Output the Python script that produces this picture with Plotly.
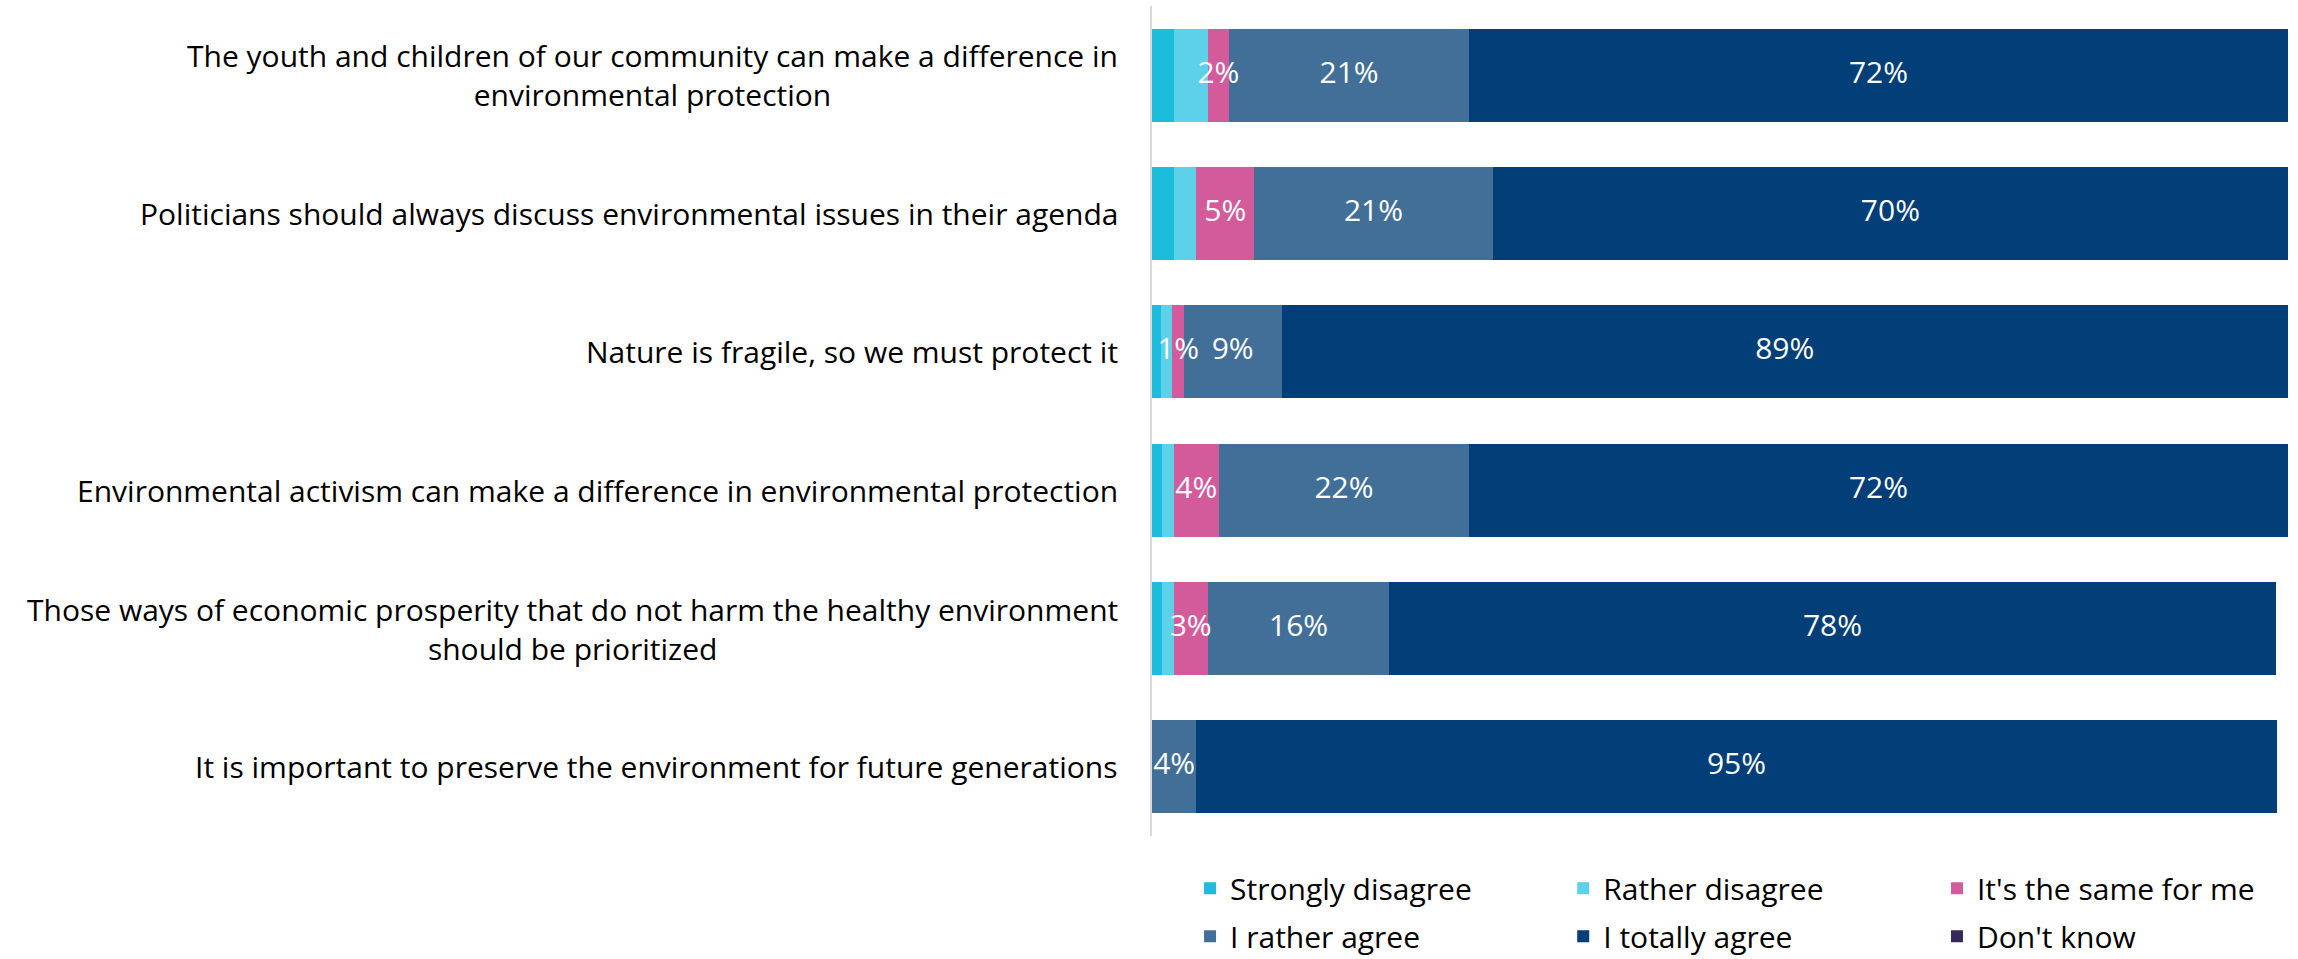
import plotly.graph_objects as go

categories = [
    "The youth and children of our community can make a difference in<br>environmental protection",
    "Politicians should always discuss environmental issues in their agenda",
    "Nature is fragile, so we must protect it",
    "Environmental activism can make a difference in environmental protection",
    "Those ways of economic prosperity that do not harm the healthy environment<br>should be prioritized",
    "It is important to preserve the environment for future generations",
]

series_names = ["Strongly disagree", "Rather disagree", "It's the same for me",
                "I rather agree", "I totally agree", "Don't know"]

strongly_disagree = [1.9, 1.9, 0.8, 0.9, 0.9, 0.0]
rather_disagree = [3.0, 2.0, 1.0, 1.0, 1.0, 0.0]
same_for_me = [1.9, 5.1, 1.0, 4.0, 3.0, 0.0]
rather_agree = [21.1, 21.0, 8.6, 22.0, 16.0, 3.9]
totally_agree = [72.1, 70.0, 88.6, 72.1, 78.0, 95.1]
dont_know = [0, 0, 0, 0, 0, 0]

# labels shown only for these series
show_labels = [False, False, True, True, True, False]
colors = ["#1BBCDC", "#5DD1E9", "#D45B9B", "#426F98", "#023E77", "#35295B"]
# legend column for each series (2 rows x 3 columns)
legend_ids = ["legend", "legend2", "legend3", "legend", "legend2", "legend3"]

FONT = "Open Sans"
FS = 30

fig = go.Figure()
values = [strongly_disagree, rather_disagree, same_for_me, rather_agree, totally_agree, dont_know]
for i, (name, vals, col, lg) in enumerate(zip(series_names, values, colors, legend_ids)):
    fig.add_trace(go.Bar(
        y=categories, x=vals, name=name, orientation="h",
        marker=dict(color=col, line=dict(width=0)),
        hoverinfo="x+name",
        legend=lg, legendgroup=f"g{i}",
    ))

# value labels drawn on top of all bars (so they may overflow narrow segments)
base = [0.0] * len(categories)
for vals, lab in zip(values, show_labels):
    mids = [b + v / 2 for b, v in zip(base, vals)]
    if lab:
        txt = [f"{round(v)}%" if v > 0 else "" for v in vals]
        fig.add_trace(go.Scatter(
            x=mids, y=categories, mode="text", text=txt,
            textposition="middle center",
            textfont=dict(color="white", size=FS, family=FONT),
            showlegend=False, hoverinfo="skip", cliponaxis=False,
        ))
    base = [b + v for b, v in zip(base, vals)]

annotations = []
for c in categories:
    annotations.append(dict(
        x=0, xref="paper", y=c, yref="y", text=c, showarrow=False,
        xanchor="right", align="center", xshift=-32,
        font=dict(size=FS, family=FONT, color="#000000"),
    ))

legend_common = dict(
    orientation="v", yref="container", y=0.101, yanchor="top", xanchor="left",
    font=dict(size=FS, family=FONT, color="#000000"),
    traceorder="grouped", tracegroupgap=6, bgcolor="rgba(0,0,0,0)",
)

fig.update_layout(
    barmode="stack",
    width=2298, height=959,
    margin=dict(l=1152, r=10, t=6, b=123),
    plot_bgcolor="white", paper_bgcolor="white",
    bargap=0.33,
    annotations=annotations,
    legend=dict(x=0.0335, **legend_common),
    legend2=dict(x=0.362, **legend_common),
    legend3=dict(x=0.691, **legend_common),
    showlegend=True,
)
fig.update_xaxes(range=[0, 100], visible=False, fixedrange=True)
fig.update_yaxes(autorange="reversed", showticklabels=False, showline=True,
                 linecolor="#D9D9D9", linewidth=2, ticks="", showgrid=False)

fig.write_html("out.html", config={"displayModeBar": False},
               post_script="document.body.style.margin='0';")
